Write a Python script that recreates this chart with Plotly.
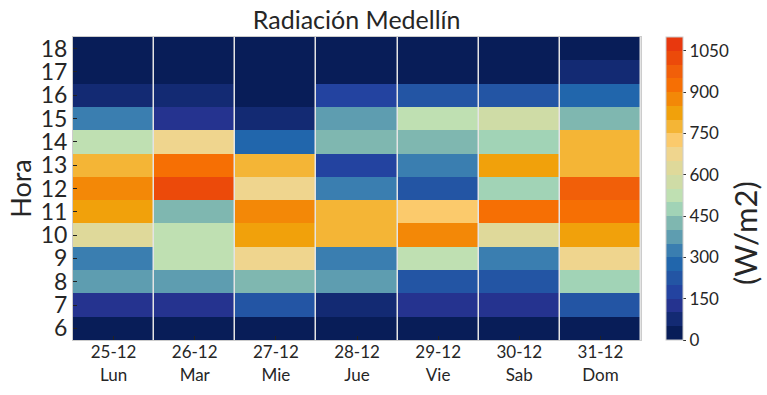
import plotly.graph_objects as go

days = ["25-12<br>Lun", "26-12<br>Mar", "27-12<br>Mie", "28-12<br>Jue", "29-12<br>Vie", "30-12<br>Sab", "31-12<br>Dom"]
hours = [6, 7, 8, 9, 10, 11, 12, 13, 14, 15, 16, 17, 18]

# radiation (W/m2) per day, hours 6..18
lun = [25, 125, 375, 325, 625, 825, 875, 775, 525, 325, 75, 25, 25]
mar = [25, 125, 375, 525, 525, 425, 1025, 925, 675, 125, 75, 25, 25]
mie = [25, 225, 425, 675, 825, 875, 675, 775, 275, 75, 25, 25, 25]
jue = [25, 75, 375, 325, 775, 775, 325, 175, 425, 375, 175, 25, 25]
vie = [25, 125, 225, 525, 875, 725, 225, 325, 425, 525, 225, 25, 25]
sab = [25, 125, 225, 325, 625, 925, 475, 825, 475, 575, 225, 25, 25]
dom = [25, 225, 475, 675, 825, 925, 975, 775, 775, 425, 275, 75, 25]

band_colors = ["#081d58", "#132a73", "#25338f", "#2343a0", "#2355a4", "#2166ac",
               "#3a7eb0", "#5e9db0", "#7fb7b0", "#a1d3b6", "#bfe0b2", "#cfdca6",
               "#dfd99a", "#efd58e", "#fbca6c", "#f4b536", "#f1a10b", "#f38807",
               "#f66f04", "#f15f09", "#ec4a0a", "#e8380e"]
zmax = 1100

n = len(band_colors)
colorscale = []
for i, c in enumerate(band_colors):
    colorscale.append([i / n, c])
    colorscale.append([(i + 1) / n, c])

z = [[col[h] for col in (lun, mar, mie, jue, vie, sab, dom)] for h in range(len(hours))]

FONT = "Lato"
TXT = "#262626"
fig = go.Figure(go.Heatmap(
    x=days, y=hours, z=z, zmin=0, zmax=zmax, colorscale=colorscale,
    xgap=1.5,
    colorbar=dict(
        x=1.044, xanchor="left", xpad=0, y=0.5, yanchor="middle", len=1.0, ypad=0,
        thickness=17, outlinewidth=1, outlinecolor="#cccccc",
        tickvals=[0, 150, 300, 450, 600, 750, 900, 1050],
        ticks="outside", ticklen=3, tickcolor="#333",
        tickfont=dict(size=17, color=TXT, family=FONT),
    ),
))

fig.add_annotation(text="(W/m2)", textangle=-90, xref="paper", yref="paper",
                   x=1.183, y=0.353, xanchor="center", yanchor="middle", showarrow=False,
                   font=dict(size=31, color=TXT, family=FONT))

fig.update_layout(
    width=767, height=395,
    margin=dict(l=73, r=126, t=37, b=55, autoexpand=False),
    paper_bgcolor="white", plot_bgcolor="#e4e4e4",
    title=dict(text="Radiación Medellín", x=0.465, xanchor="center", y=0.948, yanchor="middle",
               font=dict(size=25, color=TXT, family=FONT)),
    font=dict(family=FONT, color=TXT),
)
fig.update_xaxes(showgrid=False, ticks="inside", ticklen=4, tickcolor="#222", automargin=False,
                 tickfont=dict(size=17, color=TXT), showline=True, linecolor="#cccccc",
                 mirror=True, linewidth=1, ticklabelstandoff=-3)
fig.update_yaxes(showgrid=False, ticks="inside", ticklen=4, tickcolor="#222", dtick=1, automargin=False,
                 tickfont=dict(size=23, color=TXT), showline=True, linecolor="#cccccc",
                 mirror=True, linewidth=1, title=dict(text="Hora", font=dict(size=27), standoff=1))

fig.write_html("out.html", post_script="document.body.style.margin='0px';",
               config={"displayModeBar": False})
